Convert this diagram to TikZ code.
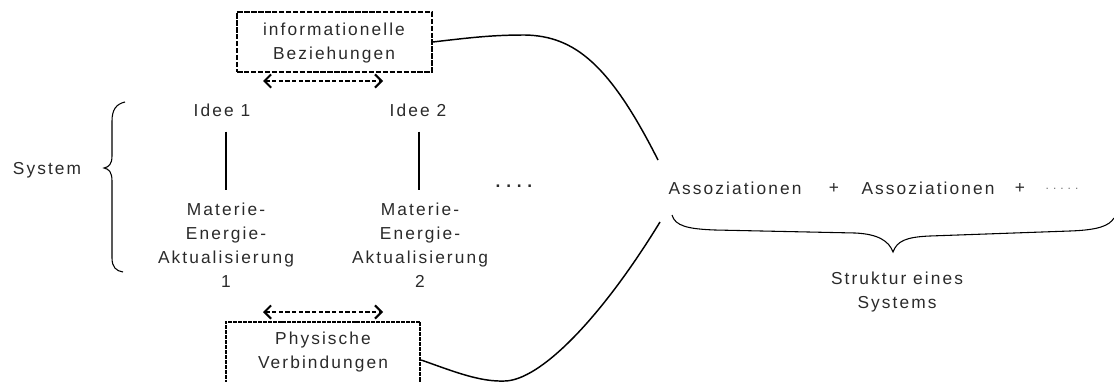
\documentclass[tikz,border=0pt]{standalone}
\usepackage{fontspec}
\setmainfont{Liberation Sans}
\newfontfamily\lsfont[LetterSpace=12]{Liberation Sans}
\usetikzlibrary{arrows.meta}
\definecolor{txt}{HTML}{2A2A2A}
\begin{document}
\begin{tikzpicture}[x=0.75pt,y=-0.75pt,
  lbl/.style={inner sep=0pt,align=center,text=txt,font=\lsfont\fontsize{13}{18}\selectfont},
  framebox/.style={draw,line width=1.5pt,dash pattern=on 4pt off 1.2pt,minimum width=146pt,inner sep=0pt},
  framebox2/.style={draw,line width=1.3pt,dash pattern=on 3pt off 0.7pt,minimum width=146pt,inner sep=0pt},
  relarrow/.style={line width=1.5pt,dash pattern=on 3.2pt off 1.8pt,{Straight Barb[length=5pt,width=10pt]}-{Straight Barb[length=5pt,width=10pt]}},
  conn/.style={line width=1.1pt},
  bracel/.style={line width=0.8pt}]
\useasboundingbox (0,0) rectangle (1114,382);

% top box
\node[framebox,minimum height=45pt] (topbox) at (334.5,42) {};
\node[lbl] (toptext) at (334,43) {informationelle\\Beziehungen};
\coordinate (ta1) at (263,81);
\coordinate (ta2) at (383,81);
\draw[relarrow] (ta1) -- (ta2);

% ideas
\node[lbl] (idee1) at (222,110) {Idee 1};
\node[lbl] (idee2) at (418,110) {Idee 2};
\node[lbl] (mat1) at (226,245) {Materie-\\Energie-\\Aktualisierung\\1};
\node[lbl] (mat2) at (420,245) {Materie-\\Energie-\\Aktualisierung\\2};
\draw[line width=0.9pt] (idee1.south -| 226,0) ++(0,15) -- (226,190);
\draw[line width=0.9pt] (idee2.south -| 419,0) ++(0,15) -- (419,190);
\node[lbl,font=\bfseries\fontsize{13}{18}\selectfont] (dots1) at (514,186) {.\,\,.\,\,.\,\,.};

% System brace
\node[lbl] (system) at (47,170) {System};
\draw[bracel] (125,102) .. controls (116,104) and (112,110) .. (112,121) -- (112,156)
  .. controls (112,164) and (109,167) .. (104,168) .. controls (109,169) and (112,172) .. (112,181)
  -- (112,258) .. controls (112,267) and (116,271) .. (123,272);

% bottom box
\coordinate (ba1) at (263,312);
\coordinate (ba2) at (383,312);
\draw[relarrow] (ba1) -- (ba2);
\node[framebox2,minimum height=57pt] (botbox) at (323,360) {};
\node[lbl] (bottext) at (323,352) {Physische\\Verbindungen};

% associations
\node[lbl] (assoc1) at (735,188) {Assoziationen};
\node[lbl] (plus1) at (834,188) {+};
\node[lbl] (assoc2) at (928,188) {Assoziationen};
\node[lbl] (plus2) at (1020,188) {+};
\node[lbl,font=\fontsize{9}{10}\selectfont,text=black!55] (dots2) at (1062,189) {.\,\,.\,\,.\,\,.\,\,.};
\coordinate (cend1) at (658,160);
\coordinate (cend2) at (660,222);

\draw[conn] (topbox.east) .. controls (475,37) and (495,35) .. (525,35)
  .. controls (575,36) and (610,65) .. (cend1);
\draw[conn] (botbox.east) .. controls (455,372) and (480,382) .. (505,381)
  .. controls (540,380) and (600,320) .. (cend2);

% underbrace
\draw[bracel] (672,215) .. controls (675,226) and (688,229) .. (715,230) -- (855,233)
  .. controls (878,234) and (889,241) .. (893,252) .. controls (897,241) and (906,237) .. (930,236)
  -- (1070,231) .. controls (1098,230) and (1109,226) .. (1114,218);
\node[lbl] (struktur) at (897,292) {Struktur eines\\Systems};
\end{tikzpicture}
\end{document}
